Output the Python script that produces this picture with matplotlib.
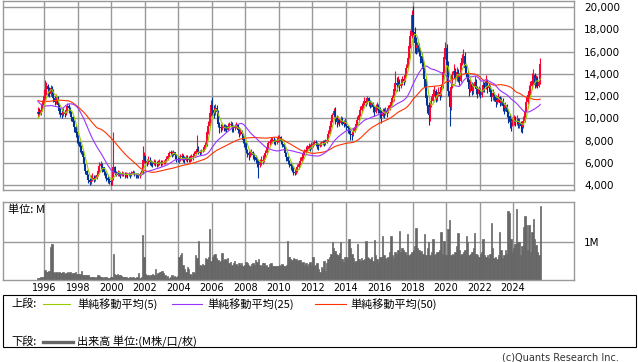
import matplotlib
matplotlib.use("Agg")
import matplotlib.pyplot as plt
from matplotlib.patches import Rectangle
import numpy as np
import pandas as pd

plt.rcParams['font.family'] = ['DejaVu Sans', 'Noto Sans CJK JP']
JP = ['Noto Sans CJK JP', 'DejaVu Sans']

# 月足: 1995-08 .. 2025-08
first_year, first_month = 1995, 8

# 移動平均の計算用に、表示期間より前の終値 (1991-07 .. 1995-07)
pre_closes = [
    12600, 12400, 12500, 12300, 12200, 12000,
    12100, 12300, 11800, 11500, 11200, 10900, 10600, 10200, 10500, 10700, 10800, 10900,
    11000, 11100, 11600, 12200, 12800, 13200, 13400, 13600, 13600, 13400, 13200, 13000,
    12600, 12400, 12200, 12300, 12500, 12600, 12400, 12200, 12100, 12000, 11800, 11500,
    8800, 8200, 7500, 9200, 9800, 10000, 10400,
]

closes = [
    10600, 10400, 10800, 11200, 12000,
    12400, 12900, 12600, 12200, 12700, 12500, 11800, 11500, 11900, 11200, 10700, 10500,
    10300, 10600, 10400, 10800, 11100, 10900, 10600, 10100, 9700, 9200, 8700, 8300,
    7900, 7400, 7100, 6500, 5900, 5300, 4900, 4500, 4300, 4400, 4700, 4600,
    4700, 4900, 5300, 5700, 5900, 5600, 5200, 5000, 4700, 4500, 4400, 4300,
    4600, 5600, 5100, 5000, 5200, 5000, 4900, 5100, 5000, 4900, 5000, 4900,
    5000, 4900, 5100, 5200, 5000, 4900, 4900, 4800, 5000, 5100, 6300, 6600,
    6200, 6000, 6300, 6100, 6000, 5900, 6100, 6000, 5900, 6000, 6100, 6000,
    6000, 6100, 6200, 6400, 6600, 6900, 7000, 6800, 7000, 6700, 6400, 6300,
    6300, 6500, 6600, 6400, 6300, 6500, 6400, 6300, 6400, 6500, 6600, 6800,
    7100, 7300, 7000, 6900, 7100, 7200, 7400, 7600, 8800, 9300, 10500, 11200,
    10800, 10500, 10900, 10600, 9500, 9200, 9100, 9300, 9100, 9200, 9000, 9300,
    9400, 9500, 9200, 9100, 9300, 9400, 9000, 8700, 8800, 8600, 8100, 7800,
    7200, 6900, 6700, 6900, 7000, 6700, 6500, 6300, 6000, 5800, 6100, 6200,
    6300, 6500, 6900, 7400, 7800, 7900, 8000, 8100, 8000, 7900, 8100, 8200,
    8300, 8000, 7700, 7400, 6900, 6500, 6200, 5900, 5700, 5500, 5200, 5100,
    5300, 5600, 5900, 6200, 6500, 6800, 7000, 7200, 7300, 7500, 7400, 7600,
    7700, 7900, 7800, 7600, 7500, 7700, 7800, 7900, 7800, 7900, 8100, 8600,
    9300, 9800, 10300, 10700, 10100, 9700, 9900, 9600, 9900, 9700, 9500, 9700,
    9300, 9100, 8900, 8600, 8500, 8900, 9200, 9500, 9900, 10300, 10800, 11100,
    11300, 11600, 11400, 11800, 11500, 11200, 11400, 11000, 10600, 11000, 11200, 10900,
    10500, 10200, 10600, 10400, 10700, 10500, 10900, 11200, 11500, 11800, 12600, 13200,
    13000, 13300, 12900, 13100, 13500, 13400, 13900, 14500, 15400, 16500, 17400, 19300,
    17800, 16800, 16300, 16600, 16000, 15600, 15000, 14400, 13500, 11800, 11200, 10300,
    11000, 11600, 12200, 12500, 11700, 12100, 12400, 12000, 12800, 14200, 15500, 16300,
    14800, 12500, 11000, 12800, 13900, 14300, 13600, 14200, 13800, 13400, 15000, 15400,
    15600, 14500, 14100, 13300, 12600, 13100, 12500, 12800, 13300, 12600, 12200, 12600,
    12100, 12500, 13000, 12800, 13400, 12700, 12900, 12400, 11900, 12300, 12000, 11500,
    11700, 11900, 11400, 11600, 11100, 10900, 11200, 10600, 10200, 9700, 9600, 9800,
    9900, 9700, 9800, 9500, 9600, 9300, 9200, 9800, 10700, 11500, 12100, 12500,
    12900, 13400, 13900, 13000, 13600, 12900, 13300, 14900,
]

highs = [
    11000, 10900, 11200, 11700, 12600,
    13450, 13300, 13100, 12800, 13000, 12900, 12600, 12000, 12200, 12000, 11300, 10900,
    10900, 10900, 10800, 11100, 11400, 11300, 11000, 10700, 10200, 9900, 9400, 8900,
    8500, 7900, 7600, 7200, 6500, 5900, 5400, 5000, 4700, 4900, 5100, 4900,
    4900, 5200, 5600, 6100, 6200, 6000, 5600, 5300, 5100, 4800, 4700, 4600,
    5000, 8800, 5700, 5300, 5400, 5300, 5200, 5300, 5200, 5200, 5200, 5100,
    5200, 5100, 5300, 5400, 5300, 5100, 5100, 5100, 5200, 5400, 7500, 7000,
    6700, 6400, 6600, 6500, 6300, 6200, 6400, 6300, 6200, 6300, 6400, 6300,
    6300, 6300, 6400, 6600, 6900, 7100, 7200, 7100, 7200, 7000, 6800, 6600,
    6600, 6800, 6900, 6800, 6600, 6700, 6700, 6600, 6700, 6800, 6900, 7100,
    7300, 8500, 7500, 7200, 7300, 7400, 7600, 7900, 9000, 9800, 10800, 11700,
    11950, 11200, 11300, 11200, 10800, 9700, 9500, 9600, 9500, 9500, 9400, 9600,
    9700, 9800, 9700, 9400, 9500, 9700, 9500, 9200, 9100, 9000, 8700, 8300,
    7900, 7300, 7100, 7200, 7300, 7100, 6900, 6700, 6500, 6300, 6400, 6600,
    6700, 6800, 7200, 7600, 8000, 8200, 8300, 8300, 8300, 8200, 8300, 8500,
    8500, 8400, 8100, 7800, 7500, 7000, 6600, 6300, 6100, 5900, 5700, 5500,
    5600, 5900, 6200, 6500, 6800, 7100, 7300, 7500, 7600, 7800, 7700, 7900,
    7900, 8100, 8100, 7900, 7800, 7900, 8000, 8100, 8100, 8200, 8400, 9000,
    9500, 10100, 10500, 10900, 11000, 10300, 10200, 10000, 10200, 10100, 9900, 10000,
    9800, 9400, 9200, 9000, 8800, 9100, 9400, 9700, 10200, 10500, 11100, 11400,
    11600, 11900, 11800, 12000, 11900, 11700, 11600, 11500, 11100, 11300, 11500, 11300,
    11000, 10800, 10900, 10900, 11000, 10900, 11200, 11500, 11800, 12100, 13000, 14300,
    13700, 13800, 13500, 13500, 13800, 13900, 14200, 14900, 15800, 16900, 17900, 19700,
    20100, 18200, 17300, 16900, 16800, 16300, 15900, 15300, 14600, 13700, 12100, 11500,
    11600, 12000, 12600, 12900, 12600, 12400, 12800, 12600, 13100, 14500, 15900, 16900,
    16700, 15200, 12700, 13300, 14300, 14900, 14500, 14600, 14400, 14100, 15400, 15800,
    16200, 16000, 14800, 14300, 13500, 13500, 13300, 13200, 13800, 13500, 12900, 12900,
    12700, 12800, 13400, 13300, 13900, 13500, 13200, 13000, 12600, 12600, 12400, 12100,
    12000, 12300, 12000, 11900, 11800, 11300, 11500, 11300, 10800, 10400, 10000, 10100,
    10300, 10200, 10300, 10000, 10000, 9800, 9700, 10200, 11000, 11900, 12500, 13000,
    13400, 14100, 14400, 14100, 13900, 13800, 14300, 15400,
]

lows = [
    10150, 10200, 10300, 10700, 11100,
    11700, 12100, 12000, 11900, 12000, 12100, 11500, 11200, 11300, 11000, 10400, 10100,
    10000, 10200, 10100, 10300, 10600, 10500, 10200, 9800, 9300, 8800, 8300, 7800,
    7600, 7000, 6800, 6100, 5600, 5000, 4600, 4200, 4050, 4100, 4350, 4300,
    4400, 4600, 4800, 5200, 5500, 5200, 4900, 4700, 4400, 4200, 4150, 4050,
    4050, 4500, 4900, 4800, 4800, 4800, 4700, 4800, 4800, 4700, 4750, 4700,
    4800, 4700, 4800, 5000, 4800, 4700, 4700, 4650, 4700, 4900, 5000, 6000,
    5800, 5700, 5900, 5800, 5700, 5600, 5800, 5700, 5600, 5700, 5800, 5700,
    5800, 5900, 5900, 6100, 6300, 6500, 6700, 6500, 6600, 6400, 6100, 6100,
    6000, 6200, 6300, 6100, 6000, 6200, 6100, 6100, 6100, 6200, 6300, 6500,
    6700, 7000, 6800, 6700, 6800, 7000, 7100, 7300, 7500, 8600, 9200, 10200,
    10200, 10000, 10300, 10300, 9200, 8700, 8800, 9000, 8900, 8900, 8800, 9000,
    9100, 9200, 8800, 8800, 9000, 9100, 8700, 8300, 8500, 8300, 7800, 7400,
    6900, 6500, 6300, 6500, 6700, 6400, 6200, 6000, 5600, 4650, 5600, 5800,
    5900, 6100, 6400, 6800, 7300, 7600, 7700, 7800, 7700, 7600, 7700, 7900,
    7900, 7700, 7400, 7100, 6600, 6200, 5900, 5600, 5400, 5200, 4950, 4900,
    5000, 5200, 5500, 5800, 6100, 6400, 6700, 6900, 7000, 7200, 7100, 7300,
    7400, 7600, 7500, 7300, 7200, 7400, 7500, 7600, 7500, 7600, 7800, 8000,
    8600, 9200, 9700, 10100, 9500, 9200, 9500, 9300, 9500, 9400, 9200, 9300,
    9000, 8700, 8600, 8100, 8100, 8400, 8800, 9100, 9400, 9700, 10200, 10600,
    10900, 11200, 11100, 11300, 11100, 10900, 11000, 10600, 10200, 10500, 10800, 10500,
    10000, 9600, 10100, 10000, 10300, 10100, 10500, 10800, 11100, 11400, 11600, 12500,
    12500, 12800, 12500, 12700, 13000, 13000, 13300, 13800, 14400, 15300, 16300, 17200,
    17500, 15900, 15800, 15900, 15600, 15000, 14500, 13800, 12800, 11200, 10500, 9400,
    9800, 11000, 11600, 12000, 11500, 11600, 12000, 11700, 11900, 12700, 14100, 15300,
    14300, 12000, 9300, 10800, 12700, 13600, 13200, 13400, 13300, 13000, 13300, 14800,
    15000, 14100, 13700, 12900, 12000, 12400, 12100, 12200, 12700, 12200, 11800, 12000,
    11800, 11900, 12400, 12400, 12600, 12300, 12500, 12000, 11600, 11700, 11600, 11000,
    11300, 11500, 11100, 11200, 10700, 10400, 10700, 10100, 9600, 9100, 8850, 9300,
    9400, 9300, 9400, 9100, 9100, 8750, 8650, 9100, 9700, 10600, 11300, 11800,
    12100, 12600, 13000, 12700, 12800, 12700, 12800, 13100,
]

# 出来高 (単位: M)
volumes = [
    0.05, 0.06, 0.07, 0.08, 0.09,
    0.27, 0.20, 0.22, 0.25, 0.88, 0.95, 0.20, 0.19, 0.21, 0.18, 0.20, 0.19,
    0.18, 0.20, 0.17, 0.19, 0.21, 0.18, 0.20, 0.17, 0.19, 0.18, 0.20, 0.15,
    0.15, 0.16, 0.24, 0.14, 0.13, 0.12, 0.13, 0.14, 0.09, 0.08, 0.07, 0.08,
    0.06, 0.07, 0.12, 0.11, 0.08, 0.07, 0.06, 0.08, 0.07, 0.05, 0.06, 0.07,
    0.08, 0.68, 0.15, 0.13, 0.17, 0.14, 0.12, 0.10, 0.09, 0.08, 0.07, 0.06,
    0.06, 0.07, 0.05, 0.08, 0.06, 0.05, 0.07, 0.18, 0.06, 0.08, 1.20, 0.62,
    0.15, 0.12, 0.14, 0.11, 0.13, 0.16, 0.12, 0.30, 0.14, 0.18, 0.22, 0.21,
    0.23, 0.18, 0.12, 0.08, 0.10, 0.06, 0.09, 0.12, 0.08, 0.11, 0.07, 0.10,
    0.62, 0.66, 0.71, 0.40, 0.30, 0.22, 0.35, 0.28, 0.15, 0.13, 0.22, 0.18,
    0.66, 0.58, 1.03, 0.40, 0.38, 0.42, 0.40, 0.58, 0.55, 0.60, 1.35, 0.50,
    0.62, 0.66, 0.70, 0.58, 0.52, 0.49, 0.50, 0.71, 0.53, 0.56, 0.52, 0.58,
    0.45, 0.48, 0.40, 0.44, 0.50, 0.42, 0.38, 0.44, 0.40, 0.46, 0.36, 0.40,
    0.49, 0.44, 0.40, 0.38, 0.42, 0.46, 0.40, 0.52, 0.48, 0.56, 0.40, 0.36,
    0.44, 0.46, 0.38, 0.40, 0.35, 0.42, 0.44, 0.36, 0.38, 0.37, 0.36, 0.38,
    0.40, 0.36, 0.42, 0.38, 0.37, 0.40, 1.03, 0.62, 0.55, 0.53, 0.58, 0.55,
    0.56, 0.50, 0.52, 0.54, 0.45, 0.48, 0.40, 0.44, 0.36, 0.42, 0.48, 0.40,
    0.62, 0.38, 0.40, 0.45, 0.30, 0.22, 0.35, 0.28, 0.50, 0.25, 0.44, 0.55,
    0.62, 0.70, 1.02, 0.84, 0.78, 0.70, 0.66, 0.72, 1.00, 0.55, 0.49, 0.60,
    0.62, 0.58, 1.08, 0.84, 0.70, 0.58, 0.49, 0.50, 0.95, 0.55, 0.50, 0.58,
    0.52, 0.55, 1.03, 0.62, 0.58, 0.55, 0.60, 0.50, 1.06, 0.66, 0.55, 0.49,
    0.60, 0.62, 1.18, 0.66, 0.58, 0.55, 0.62, 0.75, 1.18, 0.66, 0.58, 0.75,
    0.70, 0.80, 1.30, 0.75, 0.84, 0.80, 0.75, 0.66, 1.21, 0.66, 0.70, 0.75,
    0.80, 0.90, 1.38, 0.84, 0.80, 0.75, 0.78, 0.70, 1.21, 0.66, 0.84, 1.00,
    0.66, 0.75, 1.08, 0.66, 0.70, 0.75, 0.75, 0.80, 1.27, 0.70, 1.03, 0.66,
    0.66, 1.35, 1.60, 0.66, 0.70, 0.66, 0.75, 0.90, 1.24, 0.80, 0.66, 0.70,
    0.75, 0.80, 1.17, 1.00, 0.66, 0.70, 0.75, 0.84, 1.24, 0.70, 0.66, 0.62,
    0.70, 0.75, 1.10, 0.66, 0.62, 0.66, 0.58, 0.70, 1.50, 0.84, 0.58, 0.62,
    0.55, 0.66, 1.27, 0.80, 0.58, 0.66, 0.80, 0.70, 1.83, 1.77, 1.10, 0.75,
    0.84, 0.95, 1.88, 1.02, 1.00, 0.66, 0.90, 1.40, 1.70, 1.46, 0.80, 1.46,
    0.75, 1.28, 1.61, 1.10, 0.93, 0.75, 0.66, 1.95,
]

year_ticks = list(range(1996, 2025, 2))
price_ticks = [4000, 6000, 8000, 10000, 12000, 14000, 16000, 18000, 20000]
price_labels = ["4,000", "6,000", "8,000", "10,000", "12,000", "14,000",
                "16,000", "18,000", "20,000"]
ma_spans = [5, 25, 50]
ma_colors = ["#99cc00", "#9933ff", "#ff3300"]
ma_names = ["単純移動平均(5)", "単純移動平均(25)", "単純移動平均(50)"]

c = np.array(closes, float)
h = np.array(highs, float)
l = np.array(lows, float)
o = np.r_[pre_closes[-1], c[:-1]]
x = first_year + (first_month - 1 + np.arange(len(c)) + 0.5) / 12

allc = pd.Series(pre_closes + closes, dtype=float)
mas = [allc.rolling(n).mean().to_numpy()[len(pre_closes):] for n in ma_spans]

W, H = 638, 362
fig = plt.figure(figsize=(W / 100, H / 100), dpi=100)

def px_axes(left, top, right, bottom):
    return fig.add_axes([left / W, 1 - bottom / H, (right - left) / W, (bottom - top) / H])

grid_c = "#999999"
ax = px_axes(3.3, 0.5, 574.3, 190)
axv = px_axes(3.3, 201.7, 574.3, 280)

for a in (ax, axv):
    a.set_xlim(1993.551, 2027.661)
    a.set_axisbelow(True)
    for s in a.spines.values():
        s.set_color(grid_c)
        s.set_linewidth(1.0)
    a.set_xticks(year_ticks)
    a.grid(True, color=grid_c, linewidth=1.0)
    a.yaxis.tick_right()
    a.tick_params(length=0, labelsize=7.5, colors="black")

# 上段: ローソク足
ax.set_ylim(3578, 20589)
ax.set_yticks(price_ticks)
ax.set_yticklabels(price_labels)
ax.tick_params(axis="y", pad=7)
ax.set_xticklabels([])

up = c >= o
col = np.where(up, "#ff0033", "#003399")
lo_w = np.minimum(l, np.minimum(o, c))
hi_w = np.maximum(h, np.maximum(o, c))
ax.vlines(x, lo_w, hi_w, colors=col, linewidth=0.8)
ax.vlines(x, np.minimum(o, c), np.maximum(o, c), colors=col, linewidth=1.4)
for ma, mc in zip(mas[::-1], ma_colors[::-1]):
    ax.plot(x, ma, color=mc, linewidth=0.8)

# 下段: 出来高
axv.set_ylim(0, 2.077)
axv.bar(x, volumes, width=1 / 12, color="#666666", edgecolor="#666666", linewidth=0.5)
axv.set_yticks([1.0])
axv.set_yticklabels(["1M"])
axv.tick_params(axis="y", pad=7)
axv.set_xticklabels([str(y) for y in year_ticks])
axv.tick_params(axis="x", pad=2, labelsize=7)

# 凡例・注記 (ピクセル座標)
ov = fig.add_axes([0, 0, 1, 1])
ov.set_xlim(0, W)
ov.set_ylim(H, 0)
ov.axis("off")
ov.text(8, 209.5, "単位: M", fontsize=8, family=JP, va="center")
ov.add_patch(Rectangle((3.3, 294.7), 632.7, 52, fill=False, ec="black", lw=0.8))
ov.text(11, 304, "上段:", fontsize=8, family=JP, va="center")
for (x0, x1, tx), mc, name in zip([(43, 70, 77), (172, 202, 207), (315, 346, 350)],
                                  ma_colors, ma_names):
    ov.plot([x0, x1], [304, 304], color=mc, linewidth=0.8)
    ov.text(tx, 304, name, fontsize=8, family=JP, va="center")
ov.text(11, 342, "下段:", fontsize=8, family=JP, va="center")
ov.plot([43, 73], [342, 342], color="#666666", linewidth=2.4)
ov.text(77, 342, "出来高 単位:(M株/口/枚)", fontsize=8, family=JP, va="center")
ov.text(619, 358, "(c)Quants Research Inc.", fontsize=7, color="#333333",
        ha="right", va="center")

fig.savefig("out.png", dpi=100)
